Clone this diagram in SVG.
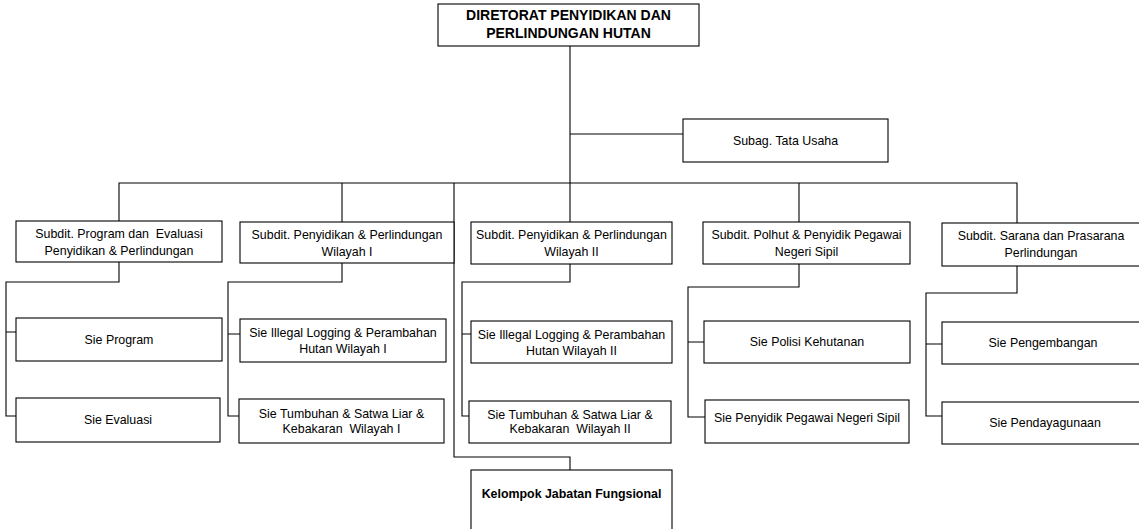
<svg xmlns="http://www.w3.org/2000/svg" width="1139" height="529" viewBox="0 0 1139 529">
<style>
  .box { fill: #fff; stroke: #000; stroke-width: 1.1; }
  .t { font-family: "Liberation Sans", Arial, sans-serif; font-size: 12.4px; fill: #000; text-anchor: middle; white-space: pre; }
  .b { font-weight: bold; }
  .title { font-size: 14px; font-weight: bold; }
  .conn { fill: none; stroke: #000; stroke-width: 1.1; }
</style>
<rect width="1139" height="529" fill="#fff"/>
<g id="connectors">
  <path class="conn" d="M570,46 V222"/>
  <path class="conn" d="M570,134 H683"/>
  <path class="conn" d="M119,221 V183 H1017 V223"/>
  <path class="conn" d="M342,183 V222"/>
  <path class="conn" d="M799,183 V222"/>
  <path class="conn" d="M454,183 V457 H570 V470"/>
  <path class="conn" d="M119,262 V282 H6 V416 H16 M6,332 H16"/>
  <path class="conn" d="M342,263 V282 H228 V416 H239 M228,334 H240"/>
  <path class="conn" d="M570,264 V282 H462 V416 H469 M462,334 H471"/>
  <path class="conn" d="M799,264 V287 H688 V417 H705 M688,342 H704"/>
  <path class="conn" d="M1017,266 V293 H926 V416 H942 M926,344 H942"/>
</g>
<g id="title">
  <rect class="box" x="438" y="4" width="261" height="42"/>
  <text class="t title" x="568.5" y="20">DIRETORAT PENYIDIKAN DAN</text>
  <text class="t title" x="568.5" y="37.7">PERLINDUNGAN HUTAN</text>
</g>
<g id="subag">
  <rect class="box" x="683" y="119" width="205" height="43"/>
  <text class="t" x="785.5" y="145">Subag. Tata Usaha</text>
</g>
<g id="subdit1">
  <rect class="box" x="16" y="221" width="206" height="41"/>
  <text class="t" x="119" y="237.7" xml:space="preserve">Subdit. Program dan  Evaluasi</text>
  <text class="t" x="119" y="255">Penyidikan &amp; Perlindungan</text>
</g>
<g id="subdit2">
  <rect class="box" x="240" y="222" width="214" height="41"/>
  <text class="t" x="347" y="239">Subdit. Penyidikan &amp; Perlindungan</text>
  <text class="t" x="347" y="256">Wilayah I</text>
</g>
<g id="subdit3">
  <rect class="box" x="471" y="222" width="201" height="42"/>
  <text class="t" x="571.5" y="239">Subdit. Penyidikan &amp; Perlindungan</text>
  <text class="t" x="571.5" y="256">Wilayah II</text>
</g>
<g id="subdit4">
  <rect class="box" x="703" y="222" width="207" height="42"/>
  <text class="t" x="806.5" y="239">Subdit. Polhut &amp; Penyidik Pegawai</text>
  <text class="t" x="806.5" y="256">Negeri Sipil</text>
</g>
<g id="subdit5">
  <rect class="box" x="942" y="223" width="202" height="43"/>
  <text class="t" x="1041" y="240">Subdit. Sarana dan Prasarana</text>
  <text class="t" x="1041" y="257">Perlindungan</text>
</g>
<g id="sie-program">
  <rect class="box" x="16" y="318" width="206" height="43"/>
  <text class="t" x="119" y="343.5">Sie Program</text>
</g>
<g id="sie-evaluasi">
  <rect class="box" x="16" y="398" width="204" height="44"/>
  <text class="t" x="118" y="424">Sie Evaluasi</text>
</g>
<g id="sie-illegal-1">
  <rect class="box" x="240" y="319" width="206" height="43"/>
  <text class="t" x="343" y="337">Sie Illegal Logging &amp; Perambahan</text>
  <text class="t" x="343" y="353">Hutan Wilayah I</text>
</g>
<g id="sie-tumbuhan-1">
  <rect class="box" x="239" y="399" width="205" height="44"/>
  <text class="t" x="341.5" y="417.5">Sie Tumbuhan &amp; Satwa Liar &amp;</text>
  <text class="t" x="341.5" y="432.5" xml:space="preserve">Kebakaran  Wilayah I</text>
</g>
<g id="sie-illegal-2">
  <rect class="box" x="471" y="321" width="201" height="42"/>
  <text class="t" x="571.5" y="338.5">Sie Illegal Logging &amp; Perambahan</text>
  <text class="t" x="571.5" y="354.5">Hutan Wilayah II</text>
</g>
<g id="sie-tumbuhan-2">
  <rect class="box" x="469" y="401" width="202" height="42"/>
  <text class="t" x="570" y="418.5">Sie Tumbuhan &amp; Satwa Liar &amp;</text>
  <text class="t" x="570" y="433" xml:space="preserve">Kebakaran  Wilayah II</text>
</g>
<g id="sie-polisi">
  <rect class="box" x="704" y="321" width="206" height="42"/>
  <text class="t" x="807" y="346">Sie Polisi Kehutanan</text>
</g>
<g id="sie-ppns">
  <rect class="box" x="705" y="400" width="204" height="43"/>
  <text class="t" x="807" y="422">Sie Penyidik Pegawai Negeri Sipil</text>
</g>
<g id="sie-pengembangan">
  <rect class="box" x="942" y="322" width="202" height="42"/>
  <text class="t" x="1043" y="347">Sie Pengembangan</text>
</g>
<g id="sie-pendayagunaan">
  <rect class="box" x="942" y="402" width="202" height="42"/>
  <text class="t" x="1045" y="426.5">Sie Pendayagunaan</text>
</g>
<g id="kelompok">
  <rect class="box" x="471" y="470" width="201" height="70"/>
  <text class="t b" x="571.5" y="497.5">Kelompok Jabatan Fungsional</text>
</g>
</svg>
